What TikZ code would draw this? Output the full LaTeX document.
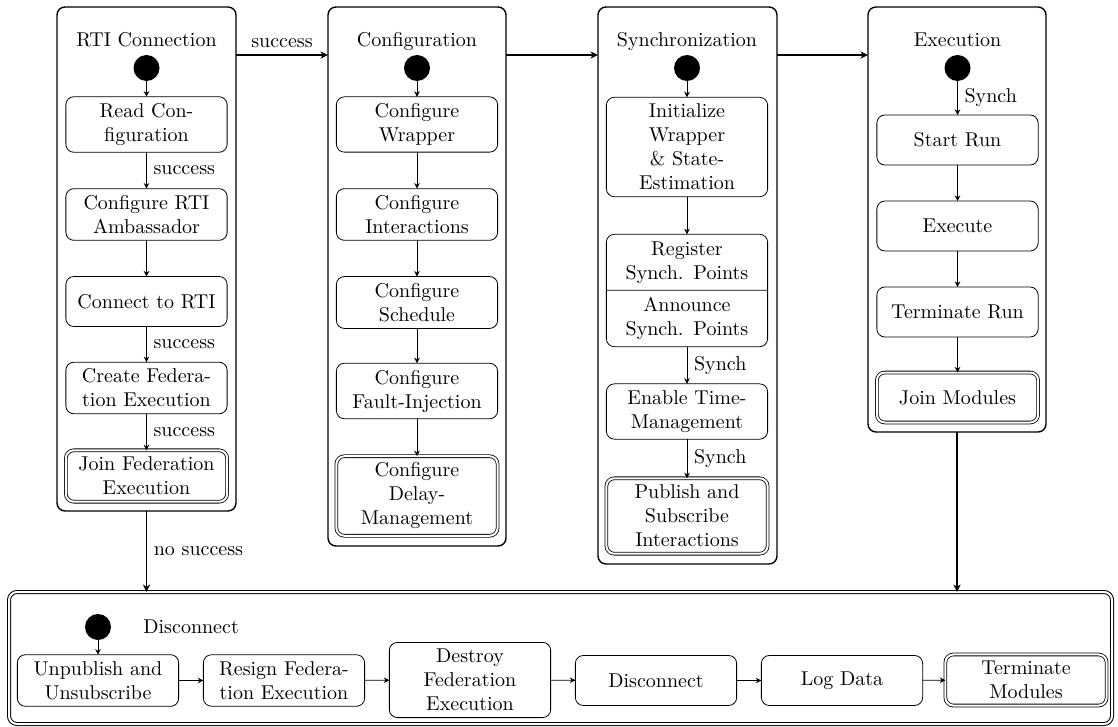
\documentclass[tikz,border=0pt]{standalone}
\usetikzlibrary{arrows.meta,shapes.multipart}
\begin{document}
\begin{tikzpicture}[x=0.5pt,y=-0.5pt,
  state/.style={draw, rounded corners=4pt, line width=0.4pt, text width=2.6cm,
    align=center, minimum height=25pt, inner sep=3.33pt, outer sep=0pt},
  final/.style={state, double, double distance=1pt},
  group/.style={draw, rounded corners=4pt, line width=0.7pt, outer sep=0pt, inner sep=0pt},
  initial/.style={circle, fill=black, minimum size=13pt, inner sep=0pt, outer sep=0pt},
  heading/.style={anchor=base, inner sep=0pt},
  flow/.style={-{Stealth[length=2.8pt,width=2.8pt,inset=0.9pt]}, line width=0.45pt},
  link/.style={-{Stealth[length=3.8pt,width=3.6pt,inset=1.2pt]}, line width=0.7pt},
  lbl/.style={right, inner sep=3.33pt}
]
\useasboundingbox (0,0) rectangle (1118,727);

% ---------- group frames ----------
\node[group, minimum width=89.5pt, minimum height=252pt] (rti)  at (146.5,259) {};
\node[group, minimum width=89pt,   minimum height=269.5pt] (conf) at (417,276.5) {};
\node[group, minimum width=89.5pt, minimum height=278.5pt] (sync) at (687.5,285.5) {};
\node[group, minimum width=89pt,   minimum height=212.5pt] (exe)  at (957,219.5) {};
\node[group, double, double distance=1pt, line width=0.5pt,
      minimum width=551.5pt, minimum height=66pt] (disc) at (560.5,658) {};

% ---------- RTI connection ----------
\node[heading] (rtiT) at (146.5,47) {RTI Connection};
\node[initial] (rti0) at (146.5,68) {};
\node[state] (r1) at (146.5,124.5) {Read Con-\\figuration};
\node[state] (r2) at (146.5,214.5) {Configure RTI\\Ambassador};
\node[state] (r3) at (146.5,301.5) {Connect to RTI};
\node[state] (r4) at (146.5,388) {Create Federa-\\tion Execution};
\node[final] (r5) at (146.5,476) {Join Federation\\Execution};
\draw[flow] (rti0) -- (r1);
\draw[flow] (r1) -- node[lbl] {success} (r2);
\draw[flow] (r2) -- (r3);
\draw[flow] (r3) -- node[lbl] {success} (r4);
\draw[flow] (r4) -- node[lbl] {success} (r5);

% ---------- configuration ----------
\node[heading] (confT) at (417,47) {Configuration};
\node[initial] (conf0) at (417,68) {};
\node[state] (c1) at (417,124.5) {Configure\\Wrapper};
\node[state] (c2) at (417,214.5) {Configure\\Interactions};
\node[state] (c3) at (417,302.5) {Configure\\Schedule};
\node[state] (c4) at (417,391) {Configure\\Fault-Injection};
\node[final] (c5) at (417,496) {Configure\\Delay-\\Management};
\draw[flow] (conf0) -- (c1);
\draw[flow] (c1) -- (c2);
\draw[flow] (c2) -- (c3);
\draw[flow] (c3) -- (c4);
\draw[flow] (c4) -- (c5);

% ---------- synchronization ----------
\node[heading] (syncT) at (687,47) {Synchronization};
\node[initial] (sync0) at (687,68) {};
\node[state] (s1) at (687,147) {Initialize\\Wrapper\\\& State-\\Estimation};
\node[state, rectangle split, rectangle split parts=2] (s2) at (687,290.5)
  {Register\\Synch. Points\nodepart{two}Announce\\Synch. Points};
\node[state] (s3) at (687,411.5) {Enable Time-\\Management};
\node[final] (s4) at (687,516) {Publish and\\Subscribe\\Interactions};
\draw[flow] (sync0) -- (s1);
\draw[flow] (s1) -- (s2);
\draw[flow] (s2) -- node[lbl] {Synch} (s3);
\draw[flow] (s3) -- node[lbl] {Synch} (s4);

% ---------- execution ----------
\node[heading] (exeT) at (957.5,47) {Execution};
\node[initial] (exe0) at (957.5,68) {};
\node[state] (e1) at (957.5,140) {Start Run};
\node[state] (e2) at (957.5,226) {Execute};
\node[state] (e3) at (957.5,312) {Terminate Run};
\node[final] (e4) at (957.5,397.5) {Join Modules};
\draw[flow] (exe0) -- node[lbl] {Synch} (e1);
\draw[flow] (e1) -- (e2);
\draw[flow] (e2) -- (e3);
\draw[flow] (e3) -- (e4);

% ---------- disconnect ----------
\node[initial] (disc0) at (98,627) {};
\node[anchor=west, inner sep=0pt] (discT) at (143,627) {Disconnect};
\node[state] (d1) at (98,680.5) {Unpublish and\\Unsubscribe};
\node[state] (d2) at (284,680.5) {Resign Federa-\\tion Execution};
\node[state] (d3) at (470,680) {Destroy\\Federation\\Execution};
\node[state] (d4) at (656,680.5) {Disconnect};
\node[state] (d5) at (842,680.5) {Log Data};
\node[final] (d6) at (1026,680) {Terminate\\Modules};
\draw[flow] (disc0) -- (d1);
\draw[flow] (d1) -- (d2);
\draw[flow] (d2) -- (d3);
\draw[flow] (d3) -- (d4);
\draw[flow] (d4) -- (d5);
\draw[flow] (d5) -- (d6);

% ---------- transitions between groups ----------
\coordinate (lvl) at (0,55);
\draw[link] (rti.east |- lvl) -- node[above, inner sep=3.33pt] {success} (conf.west |- lvl);
\draw[link] (conf.east |- lvl) -- (sync.west |- lvl);
\draw[link] (sync.east |- lvl) -- (exe.west |- lvl);
\draw[link] (rti.south) -- node[lbl] {no success} (rti.south |- disc.north);
\draw[link] (exe.south) -- (exe.south |- disc.north);
\end{tikzpicture}
\end{document}
